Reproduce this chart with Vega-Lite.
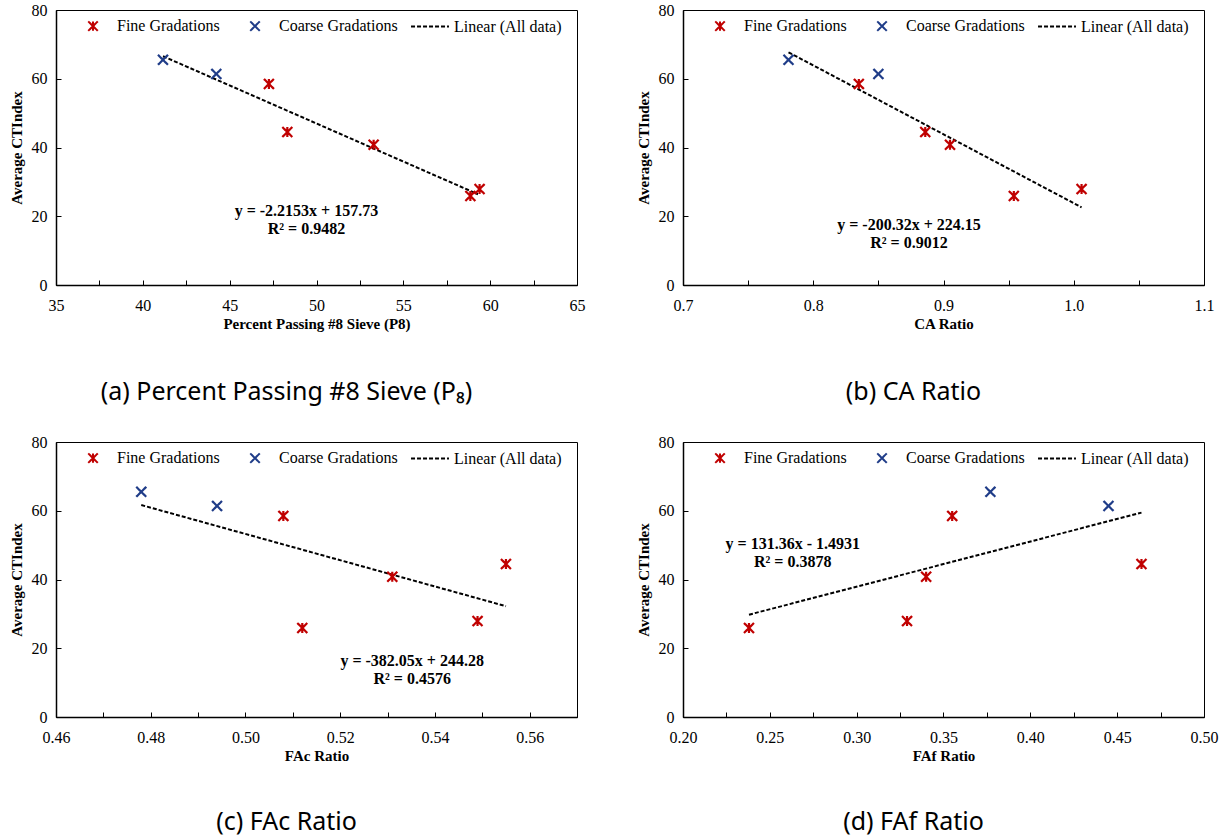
{
  "$schema": "https://vega.github.io/schema/vega-lite/v6.json",
  "padding": {"left": 8, "top": 1, "right": 5, "bottom": 3},
  "background": "white",
  "datasets": {
    "samples": [
      {"sample": "S1", "group": "Coarse Gradations", "ct": 65.5, "p8": 41.16, "ca": 0.781, "fac": 0.478, "faf": 0.377},
      {"sample": "S2", "group": "Coarse Gradations", "ct": 61.4, "p8": 44.23, "ca": 0.850, "fac": 0.494, "faf": 0.445},
      {"sample": "S3", "group": "Fine Gradations", "ct": 58.5, "p8": 47.26, "ca": 0.835, "fac": 0.508, "faf": 0.355},
      {"sample": "S4", "group": "Fine Gradations", "ct": 44.5, "p8": 48.32, "ca": 0.886, "fac": 0.555, "faf": 0.464},
      {"sample": "S5", "group": "Fine Gradations", "ct": 40.8, "p8": 53.29, "ca": 0.905, "fac": 0.531, "faf": 0.340},
      {"sample": "S6", "group": "Fine Gradations", "ct": 25.9, "p8": 58.86, "ca": 0.954, "fac": 0.512, "faf": 0.238},
      {"sample": "S7", "group": "Fine Gradations", "ct": 27.9, "p8": 59.39, "ca": 1.006, "fac": 0.549, "faf": 0.329}
    ],
    "trend": [
      {"panel": "a", "group": "Linear (All data)", "x": 41.16, "ct": 66.55},
      {"panel": "a", "group": "Linear (All data)", "x": 59.3, "ct": 26.4},
      {"panel": "b", "group": "Linear (All data)", "x": 0.781, "ct": 67.7},
      {"panel": "b", "group": "Linear (All data)", "x": 1.006, "ct": 22.6},
      {"panel": "c", "group": "Linear (All data)", "x": 0.478, "ct": 61.66},
      {"panel": "c", "group": "Linear (All data)", "x": 0.555, "ct": 32.24},
      {"panel": "d", "group": "Linear (All data)", "x": 0.238, "ct": 29.77},
      {"panel": "d", "group": "Linear (All data)", "x": 0.464, "ct": 59.46}
    ],
    "notes": [
      {"panel": "a", "x": 49.42, "ct": 21.5, "text": "y = -2.2153x + 157.73"},
      {"panel": "a", "x": 49.42, "ct": 16.2, "text": "R² = 0.9482"},
      {"panel": "b", "x": 0.8735, "ct": 17.6, "text": "y = -200.32x + 224.15"},
      {"panel": "b", "x": 0.8735, "ct": 12.3, "text": "R² = 0.9012"},
      {"panel": "c", "x": 0.5352, "ct": 16.4, "text": "y = -382.05x + 244.28"},
      {"panel": "c", "x": 0.5352, "ct": 11.1, "text": "R² = 0.4576"},
      {"panel": "d", "x": 0.2632, "ct": 50.3, "text": "y = 131.36x - 1.4931"},
      {"panel": "d", "x": 0.2632, "ct": 45.2, "text": "R² = 0.3878"}
    ]
  },
  "columns": 2,
  "spacing": {"row": 27, "column": 49},
  "resolve": {
    "scale": {"color": "independent", "shape": "independent", "strokeDash": "independent"},
    "legend": {"color": "independent", "shape": "independent", "strokeDash": "independent"}
  },
  "concat": [
    {
      "width": 521, "height": 275,
      "title": {"text": "(a) Percent Passing #8 Sieve (P₈)", "orient": "bottom", "anchor": "middle", "frame": "group", "offset": 49, "dx": -30, "font": "Noto Sans", "fontSize": 25, "fontWeight": "normal", "color": "#000000", "baseline": "top"},
      "layer": [
        {
          "data": {"name": "trend"},
          "transform": [{"filter": "datum.panel === 'a'"}],
          "mark": {"type": "line", "strokeWidth": 2},
          "encoding": {
            "x": {"field": "x", "type": "quantitative", "title": "Percent Passing #8 Sieve (P8)", "scale": {"domain": [35, 65], "nice": false}, "axis": {"values": [35, 37.5, 40, 42.5, 45, 47.5, 50, 52.5, 55, 57.5, 60, 62.5, 65], "labelExpr": "datum.value % 5 === 0 ? datum.label : ''", "format": "d", "labelFont": "Liberation Serif"}},
            "y": {"field": "ct", "type": "quantitative", "title": "Average CTIndex", "scale": {"domain": [0, 80], "nice": false}, "axis": {"values": [0, 10, 20, 30, 40, 50, 60, 70, 80], "labelExpr": "datum.value % 20 === 0 ? datum.label : ''", "labelFont": "Liberation Serif"}},
            "color": {"field": "group", "type": "nominal", "scale": {"domain": ["Fine Gradations", "Coarse Gradations", "Linear (All data)"], "range": ["#c00000", "#1f3c88", "#000000"]}},
            "strokeDash": {"field": "group", "type": "nominal", "scale": {"domain": ["Fine Gradations", "Coarse Gradations", "Linear (All data)"], "range": [[1, 0], [1, 0], [4, 2]]}}
          }
        },
        {
          "data": {"name": "samples"},
          "mark": {"type": "point", "filled": false, "strokeWidth": 2.2, "size": 100, "opacity": 1},
          "encoding": {
            "x": {"field": "p8", "type": "quantitative", "title": "Percent Passing #8 Sieve (P8)"},
            "y": {"field": "ct", "type": "quantitative", "title": "Average CTIndex"},
            "color": {"field": "group", "type": "nominal", "scale": {"domain": ["Fine Gradations", "Coarse Gradations", "Linear (All data)"], "range": ["#c00000", "#1f3c88", "#000000"]}},
            "shape": {"field": "group", "type": "nominal", "scale": {"domain": ["Fine Gradations", "Coarse Gradations", "Linear (All data)"], "range": ["M-1,-1L1,1M-1,1L1,-1M0,-1L0,1M-4.6,0L-4.6,0", "M-1,-1L1,1M-1,1L1,-1M-4.6,0L-4.6,0", "M-4,0L4,0"]}},
            "strokeDash": {"field": "group", "type": "nominal", "scale": {"domain": ["Fine Gradations", "Coarse Gradations", "Linear (All data)"], "range": [[1, 0], [1, 0], [4, 2]]}}
          }
        },
        {
          "data": {"name": "notes"},
          "transform": [{"filter": "datum.panel === 'a'"}],
          "mark": {"type": "text", "font": "Liberation Serif", "fontWeight": "bold", "fontSize": 16, "align": "center", "baseline": "middle"},
          "encoding": {
            "x": {"field": "x", "type": "quantitative", "title": "Percent Passing #8 Sieve (P8)"},
            "y": {"field": "ct", "type": "quantitative", "title": "Average CTIndex"},
            "text": {"field": "text"}
          }
        }
      ]
    },
    {
      "width": 521, "height": 275,
      "title": {"text": "(b) CA Ratio", "orient": "bottom", "anchor": "middle", "frame": "group", "offset": 49, "dx": -30, "font": "Noto Sans", "fontSize": 25, "fontWeight": "normal", "color": "#000000", "baseline": "top"},
      "layer": [
        {
          "data": {"name": "trend"},
          "transform": [{"filter": "datum.panel === 'b'"}],
          "mark": {"type": "line", "strokeWidth": 2},
          "encoding": {
            "x": {"field": "x", "type": "quantitative", "title": "CA Ratio", "scale": {"domain": [0.7, 1.1], "nice": false}, "axis": {"values": [0.7, 0.75, 0.8, 0.85, 0.9, 0.95, 1.0, 1.05, 1.1], "labelExpr": "round(datum.value * 100) % 10 === 0 ? format(datum.value, '.1f') : ''", "labelFont": "Liberation Serif"}},
            "y": {"field": "ct", "type": "quantitative", "title": "Average CTIndex", "scale": {"domain": [0, 80], "nice": false}, "axis": {"values": [0, 10, 20, 30, 40, 50, 60, 70, 80], "labelExpr": "datum.value % 20 === 0 ? datum.label : ''", "labelFont": "Liberation Serif"}},
            "color": {"field": "group", "type": "nominal", "scale": {"domain": ["Fine Gradations", "Coarse Gradations", "Linear (All data)"], "range": ["#c00000", "#1f3c88", "#000000"]}},
            "strokeDash": {"field": "group", "type": "nominal", "scale": {"domain": ["Fine Gradations", "Coarse Gradations", "Linear (All data)"], "range": [[1, 0], [1, 0], [4, 2]]}}
          }
        },
        {
          "data": {"name": "samples"},
          "mark": {"type": "point", "filled": false, "strokeWidth": 2.2, "size": 100, "opacity": 1},
          "encoding": {
            "x": {"field": "ca", "type": "quantitative", "title": "CA Ratio"},
            "y": {"field": "ct", "type": "quantitative", "title": "Average CTIndex"},
            "color": {"field": "group", "type": "nominal", "scale": {"domain": ["Fine Gradations", "Coarse Gradations", "Linear (All data)"], "range": ["#c00000", "#1f3c88", "#000000"]}},
            "shape": {"field": "group", "type": "nominal", "scale": {"domain": ["Fine Gradations", "Coarse Gradations", "Linear (All data)"], "range": ["M-1,-1L1,1M-1,1L1,-1M0,-1L0,1M-4.6,0L-4.6,0", "M-1,-1L1,1M-1,1L1,-1M-4.6,0L-4.6,0", "M-4,0L4,0"]}},
            "strokeDash": {"field": "group", "type": "nominal", "scale": {"domain": ["Fine Gradations", "Coarse Gradations", "Linear (All data)"], "range": [[1, 0], [1, 0], [4, 2]]}}
          }
        },
        {
          "data": {"name": "notes"},
          "transform": [{"filter": "datum.panel === 'b'"}],
          "mark": {"type": "text", "font": "Liberation Serif", "fontWeight": "bold", "fontSize": 16, "align": "center", "baseline": "middle"},
          "encoding": {
            "x": {"field": "x", "type": "quantitative", "title": "CA Ratio"},
            "y": {"field": "ct", "type": "quantitative", "title": "Average CTIndex"},
            "text": {"field": "text"}
          }
        }
      ]
    },
    {
      "width": 521, "height": 275,
      "title": {"text": "(c) FAc Ratio", "orient": "bottom", "anchor": "middle", "frame": "group", "offset": 47, "dx": -30, "font": "Noto Sans", "fontSize": 25, "fontWeight": "normal", "color": "#000000", "baseline": "top"},
      "layer": [
        {
          "data": {"name": "trend"},
          "transform": [{"filter": "datum.panel === 'c'"}],
          "mark": {"type": "line", "strokeWidth": 2},
          "encoding": {
            "x": {"field": "x", "type": "quantitative", "title": "FAc Ratio", "scale": {"domain": [0.46, 0.57], "nice": false}, "axis": {"values": [0.46, 0.47, 0.48, 0.49, 0.5, 0.51, 0.52, 0.53, 0.54, 0.55, 0.56, 0.57], "labelExpr": "round(datum.value * 100) % 2 === 0 ? format(datum.value, '.2f') : ''", "labelFont": "Liberation Serif"}},
            "y": {"field": "ct", "type": "quantitative", "title": "Average CTIndex", "scale": {"domain": [0, 80], "nice": false}, "axis": {"values": [0, 10, 20, 30, 40, 50, 60, 70, 80], "labelExpr": "datum.value % 20 === 0 ? datum.label : ''", "labelFont": "Liberation Serif"}},
            "color": {"field": "group", "type": "nominal", "scale": {"domain": ["Fine Gradations", "Coarse Gradations", "Linear (All data)"], "range": ["#c00000", "#1f3c88", "#000000"]}},
            "strokeDash": {"field": "group", "type": "nominal", "scale": {"domain": ["Fine Gradations", "Coarse Gradations", "Linear (All data)"], "range": [[1, 0], [1, 0], [4, 2]]}}
          }
        },
        {
          "data": {"name": "samples"},
          "mark": {"type": "point", "filled": false, "strokeWidth": 2.2, "size": 100, "opacity": 1},
          "encoding": {
            "x": {"field": "fac", "type": "quantitative", "title": "FAc Ratio"},
            "y": {"field": "ct", "type": "quantitative", "title": "Average CTIndex"},
            "color": {"field": "group", "type": "nominal", "scale": {"domain": ["Fine Gradations", "Coarse Gradations", "Linear (All data)"], "range": ["#c00000", "#1f3c88", "#000000"]}},
            "shape": {"field": "group", "type": "nominal", "scale": {"domain": ["Fine Gradations", "Coarse Gradations", "Linear (All data)"], "range": ["M-1,-1L1,1M-1,1L1,-1M0,-1L0,1M-4.6,0L-4.6,0", "M-1,-1L1,1M-1,1L1,-1M-4.6,0L-4.6,0", "M-4,0L4,0"]}},
            "strokeDash": {"field": "group", "type": "nominal", "scale": {"domain": ["Fine Gradations", "Coarse Gradations", "Linear (All data)"], "range": [[1, 0], [1, 0], [4, 2]]}}
          }
        },
        {
          "data": {"name": "notes"},
          "transform": [{"filter": "datum.panel === 'c'"}],
          "mark": {"type": "text", "font": "Liberation Serif", "fontWeight": "bold", "fontSize": 16, "align": "center", "baseline": "middle"},
          "encoding": {
            "x": {"field": "x", "type": "quantitative", "title": "FAc Ratio"},
            "y": {"field": "ct", "type": "quantitative", "title": "Average CTIndex"},
            "text": {"field": "text"}
          }
        }
      ]
    },
    {
      "width": 521, "height": 275,
      "title": {"text": "(d) FAf Ratio", "orient": "bottom", "anchor": "middle", "frame": "group", "offset": 47, "dx": -30, "font": "Noto Sans", "fontSize": 25, "fontWeight": "normal", "color": "#000000", "baseline": "top"},
      "layer": [
        {
          "data": {"name": "trend"},
          "transform": [{"filter": "datum.panel === 'd'"}],
          "mark": {"type": "line", "strokeWidth": 2},
          "encoding": {
            "x": {"field": "x", "type": "quantitative", "title": "FAf Ratio", "scale": {"domain": [0.2, 0.5], "nice": false}, "axis": {"values": [0.2, 0.225, 0.25, 0.275, 0.3, 0.325, 0.35, 0.375, 0.4, 0.425, 0.45, 0.475, 0.5], "labelExpr": "round(datum.value * 1000) % 50 === 0 ? format(datum.value, '.2f') : ''", "labelFont": "Liberation Serif"}},
            "y": {"field": "ct", "type": "quantitative", "title": "Average CTIndex", "scale": {"domain": [0, 80], "nice": false}, "axis": {"values": [0, 10, 20, 30, 40, 50, 60, 70, 80], "labelExpr": "datum.value % 20 === 0 ? datum.label : ''", "labelFont": "Liberation Serif"}},
            "color": {"field": "group", "type": "nominal", "scale": {"domain": ["Fine Gradations", "Coarse Gradations", "Linear (All data)"], "range": ["#c00000", "#1f3c88", "#000000"]}},
            "strokeDash": {"field": "group", "type": "nominal", "scale": {"domain": ["Fine Gradations", "Coarse Gradations", "Linear (All data)"], "range": [[1, 0], [1, 0], [4, 2]]}}
          }
        },
        {
          "data": {"name": "samples"},
          "mark": {"type": "point", "filled": false, "strokeWidth": 2.2, "size": 100, "opacity": 1},
          "encoding": {
            "x": {"field": "faf", "type": "quantitative", "title": "FAf Ratio"},
            "y": {"field": "ct", "type": "quantitative", "title": "Average CTIndex"},
            "color": {"field": "group", "type": "nominal", "scale": {"domain": ["Fine Gradations", "Coarse Gradations", "Linear (All data)"], "range": ["#c00000", "#1f3c88", "#000000"]}},
            "shape": {"field": "group", "type": "nominal", "scale": {"domain": ["Fine Gradations", "Coarse Gradations", "Linear (All data)"], "range": ["M-1,-1L1,1M-1,1L1,-1M0,-1L0,1M-4.6,0L-4.6,0", "M-1,-1L1,1M-1,1L1,-1M-4.6,0L-4.6,0", "M-4,0L4,0"]}},
            "strokeDash": {"field": "group", "type": "nominal", "scale": {"domain": ["Fine Gradations", "Coarse Gradations", "Linear (All data)"], "range": [[1, 0], [1, 0], [4, 2]]}}
          }
        },
        {
          "data": {"name": "notes"},
          "transform": [{"filter": "datum.panel === 'd'"}],
          "mark": {"type": "text", "font": "Liberation Serif", "fontWeight": "bold", "fontSize": 16, "align": "center", "baseline": "middle"},
          "encoding": {
            "x": {"field": "x", "type": "quantitative", "title": "FAf Ratio"},
            "y": {"field": "ct", "type": "quantitative", "title": "Average CTIndex"},
            "text": {"field": "text"}
          }
        }
      ]
    }
  ],
  "config": {
    "font": "Liberation Serif",
    "view": {"stroke": "#000000", "strokeWidth": 1},
    "axis": {
      "grid": false,
      "domainColor": "#000000",
      "domainWidth": 1.5,
      "tickColor": "#000000",
      "tickWidth": 1,
      "tickSize": -5,
      "labelFont": "Liberation Serif",
      "labelFontSize": 16,
      "labelColor": "#000000",
      "labelFlush": false,
      "labelOverlap": false,
      "titleFont": "Liberation Serif",
      "titleFontSize": 15,
      "titleFontWeight": "bold",
      "titleColor": "#000000"
    },
    "axisY": {"titlePadding": 7, "labelPadding": 14},
    "axisX": {"titlePadding": 3, "labelPadding": 17},
    "legend": {
      "orient": "none",
      "legendX": 29,
      "legendY": 8,
      "direction": "horizontal",
      "title": null,
      "labelFont": "Liberation Serif",
      "labelFontSize": 16,
      "labelColor": "#000000",
      "symbolStrokeWidth": 2,
      "symbolSize": 90,
      "columnPadding": 9,
      "labelOffset": 16,
      "symbolFillColor": "transparent"
    }
  }
}
